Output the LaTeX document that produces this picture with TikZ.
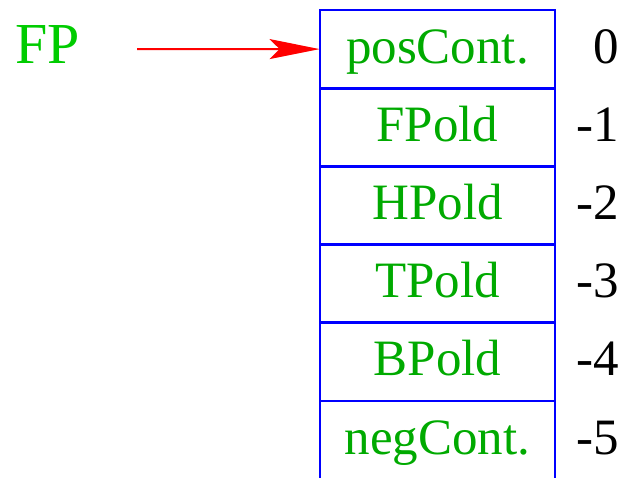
\documentclass[tikz,border=0pt]{standalone}
\usepackage{fontspec}
\setmainfont{Liberation Serif}
\usetikzlibrary{arrows.meta}
\definecolor{cellgreen}{RGB}{0,170,0}
\definecolor{reggreen}{RGB}{0,204,0}
\tikzset{
    cell/.style={minimum width=117.5pt, minimum height=39.1pt, inner sep=0pt,
        text height=20.4pt, text depth=6.4pt, text=cellgreen,
        font=\fontsize{25.5}{30}\selectfont},
    cellframe/.style={draw=blue, line width=1pt},
    idx/.style={anchor=base east, inner sep=0pt, font=\fontsize{25.5}{30}\selectfont},
    ptr/.style={red, line width=1pt, -{Stealth[length=25pt, width=10pt, inset=5pt]}}
}
\begin{document}
\begin{tikzpicture}[x=0.5pt, y=-0.5pt]
    \useasboundingbox (0, 0) rectangle (626, 477);
    \begin{scope}[]
    % Frame register
    \node[anchor=base west, inner sep=0pt, text=reggreen,
        font=\fontsize{29}{33}\selectfont] (fp) at (15, 63) {FP};
    \coordinate (fptail) at (137, 49);
    % Stack cells with their offsets
    \foreach \i/\txt in {0/posCont., 1/FPold, 2/HPold, 3/TPold, 4/BPold, 5/negCont.}
    {
        \node[cell] (cell\i) at (437.5, 49.1+78.2*\i) {\txt};
        \ifnum\i=0
            \node[idx] (idx\i) at (619, 63+78.2*\i) {0};
        \else
            \node[idx] (idx\i) at (619, 63+78.2*\i) {-\i};
        \fi
    }
    \foreach \i in {0,...,4}
        \draw[cellframe] (cell\i.south west) rectangle (cell\i.north east);
    % last cell stays open at the bottom
    \draw[cellframe] (cell5.south west) -- (cell5.north west)
        -- (cell5.north east) -- (cell5.south east);
    % Pointer to the top cell
    \draw[ptr] (fptail) -- (cell0.west);
    \end{scope}
\end{tikzpicture}
\end{document}
